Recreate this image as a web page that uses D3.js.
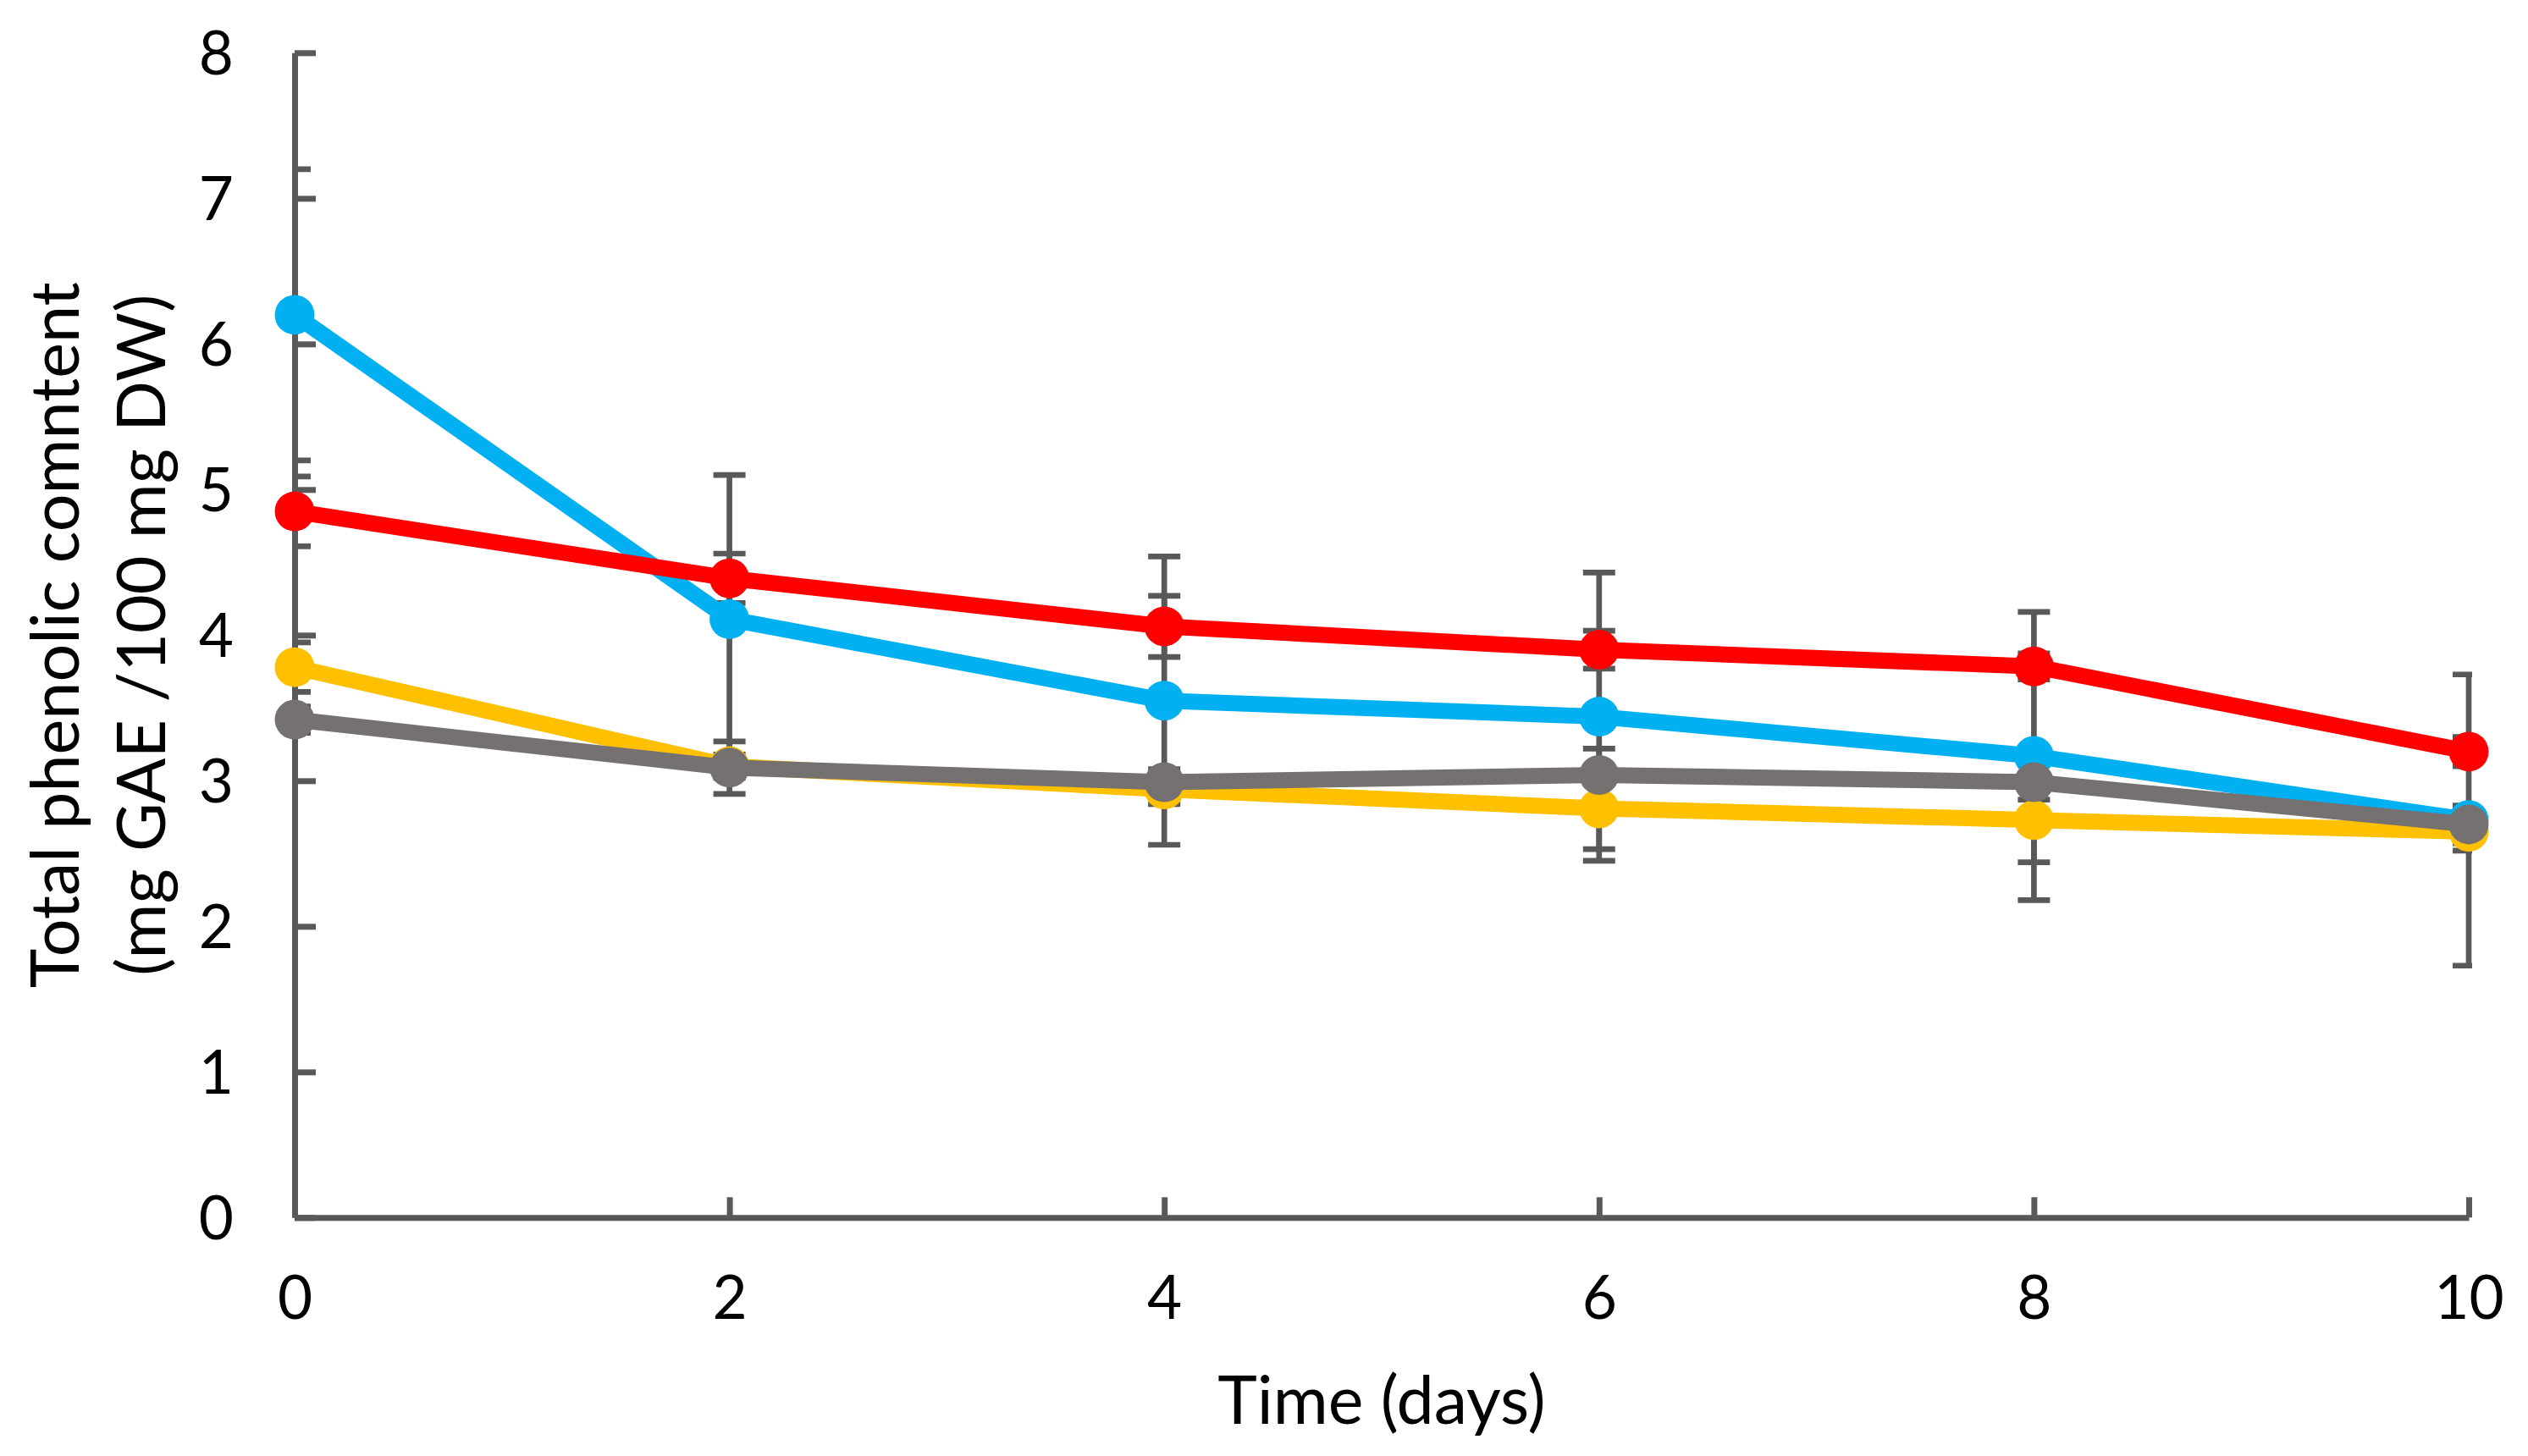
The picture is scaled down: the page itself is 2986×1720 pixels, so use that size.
<!DOCTYPE html>
<html lang="en">
  <head>
    <meta charset="utf-8">
    <title>Total phenolic content over time</title>
    <style>
      body { margin: 0; background: #fff; }
      .axis path, .axis line { stroke: #595959; stroke-width: 7; }
      .axis text { font-family: Lato, sans-serif; font-size: 71px; fill: #000; }
      .axis_title { font-family: Lato, sans-serif; font-size: 79px; fill: #000; text-anchor: middle; }
    </style>
  </head>
  <body>
    <div id="svg-area"></div>
    <script src="https://cdn.jsdelivr.net/npm/d3@7"></script>
    <script>
      const svg_width = 2986;
      const svg_height = 1720;

      // data
      const days = [0, 2, 4, 6, 8, 10];
      const blue_vals = [6.20, 4.11, 3.55, 3.44, 3.17, 2.73];
      const blue_err = [1.00, 0.99, 0.99, 0.99, 0.99, 1.00];
      const red_vals = [4.85, 4.39, 4.06, 3.90, 3.785, 3.20];
      const red_err = [0.24, 0.17, 0.21, 0.13, 0.09, 0.10];
      const yellow_vals = [3.78, 3.10, 2.94, 2.81, 2.73, 2.65];
      const yellow_err = [0.17, 0.08, 0.10, 0.28, 0.29, 0.13];
      const gray_vals = [3.42, 3.09, 2.99, 3.04, 2.99, 2.70];
      const gray_err = [0.09, 0.18, 0.09, 0.18, 0.12, 0.13];
      const x_ticks = [0, 2, 4, 6, 8, 10];
      const y_ticks = [0, 1, 2, 3, 4, 5, 6, 7, 8];

      // drawing order: blue, red, yellow, gray
      const series = [
        { name: 'blue', color: '#00B0F0', vals: blue_vals, err: blue_err },
        { name: 'red', color: '#FF0000', vals: red_vals, err: red_err },
        { name: 'yellow', color: '#FFC000', vals: yellow_vals, err: yellow_err },
        { name: 'gray', color: '#767171', vals: gray_vals, err: gray_err }
      ];

      const plot = { left: 348, right: 2916, top: 62.3, bottom: 1438.3 };

      const svg = d3.select('#svg-area')
        .append('svg')
        .attr('width', svg_width)
        .attr('height', svg_height);

      const x_scale = d3.scaleLinear()
        .domain([0, 10])
        .range([plot.left, plot.right]);
      const y_scale = d3.scaleLinear()
        .domain([0, 8])
        .range([plot.bottom, plot.top]);

      //clip for error bars (plot area only)
      svg.append('clipPath').attr('id', 'plot_clip')
        .append('rect')
        .attr('x', plot.left)
        .attr('y', 0)
        .attr('width', plot.right - plot.left + 4)
        .attr('height', svg_height);

      //error bars
      const err_g = svg.append('g').attr('clip-path', 'url(#plot_clip)')
        .attr('stroke', '#595959').attr('stroke-width', 6.7).attr('fill', 'none');
      series.forEach(s => {
        const pts = days.map((d, i) => ({ d: d, v: s.vals[i], e: s.err[i] }));
        const g = err_g.append('g');
        g.selectAll('line.stem').data(pts).enter().append('line')
          .attr('x1', p => x_scale(p.d)).attr('x2', p => x_scale(p.d))
          .attr('y1', p => y_scale(p.v + p.e)).attr('y2', p => y_scale(p.v - p.e));
        g.selectAll('line.cap_hi').data(pts).enter().append('line')
          .attr('x1', p => x_scale(p.d) - 19).attr('x2', p => x_scale(p.d) + 19)
          .attr('y1', p => y_scale(p.v + p.e)).attr('y2', p => y_scale(p.v + p.e));
        g.selectAll('line.cap_lo').data(pts).enter().append('line')
          .attr('x1', p => x_scale(p.d) - 19).attr('x2', p => x_scale(p.d) + 19)
          .attr('y1', p => y_scale(p.v - p.e)).attr('y2', p => y_scale(p.v - p.e));
      });

      //axes
      const y_axis = d3.axisLeft(y_scale)
        .tickValues(y_ticks)
        .tickSizeInner(-25)
        .tickSizeOuter(0)
        .tickPadding(72);
      const x_axis = d3.axisBottom(x_scale)
        .tickValues(x_ticks)
        .tickSizeInner(-24)
        .tickSizeOuter(0);

      svg.append('g')
        .attr('class', 'axis')
        .attr('transform', `translate(0,${plot.bottom})`)
        .call(x_axis)
        .call(g => g.selectAll('text').attr('y', 95).attr('dy', '0.35em'));
      svg.append('g')
        .attr('class', 'axis')
        .attr('transform', `translate(${plot.left},0)`)
        .call(y_axis)
        .call(g => g.selectAll('text').attr('dy', '0.35em'));

      //lines and markers
      const line = d3.line()
        .x((v, i) => x_scale(days[i]))
        .y(v => y_scale(v));
      series.forEach(s => {
        const g = svg.append('g');
        g.append('path')
          .attr('d', line(s.vals))
          .attr('fill', 'none')
          .attr('stroke', s.color)
          .attr('stroke-width', 19)
          .attr('stroke-linejoin', 'round');
        g.selectAll('circle').data(s.vals).enter()
          .append('circle')
          .attr('cx', (v, i) => x_scale(days[i]))
          .attr('cy', v => y_scale(v))
          .attr('r', 23.5)
          .attr('fill', s.color);
      });

      //axis titles
      svg.append('text')
        .attr('class', 'axis_title')
        .attr('x', (plot.left + plot.right) / 2)
        .attr('y', 1682)
        .text('Time (days)');
      const y_mid = (plot.top + plot.bottom) / 2;
      svg.append('text')
        .attr('class', 'axis_title')
        .attr('transform', `translate(92.5,${y_mid}) rotate(-90)`)
        .text('Total phenolic comntent');
      svg.append('text')
        .attr('class', 'axis_title')
        .attr('transform', `translate(194.5,${y_mid}) rotate(-90)`)
        .text('(mg GAE /100 mg DW)');
    </script>
  </body>
</html>
